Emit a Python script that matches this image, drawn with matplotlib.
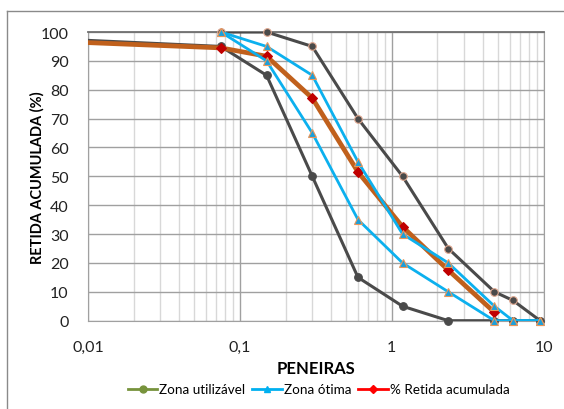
import numpy as np
import matplotlib
matplotlib.use("Agg")
from matplotlib import pyplot as plt
from matplotlib.lines import Line2D

plt.rcParams['font.family'] = ['Lato', 'DejaVu Sans']

# abertura das peneiras (mm)
peneiras = [0.075, 0.15, 0.3, 0.6, 1.18, 2.36, 4.75, 6.3, 9.5]
# 0.001 = fundo (fica fora do eixo, so aparece a reta ate a borda)
peneiras_fundo = [0.001, 0.075, 0.15, 0.3, 0.6, 1.18, 2.36, 4.75, 6.3, 9.5]

util_sup = [100, 100, 95, 70, 50, 25, 10, 7, 0]
util_inf = [99.5, 95, 85, 50, 15, 5, 0, 0, 0, 0]
otima_sup = [100, 95, 85, 55, 30, 20, 5, 0, 0]
otima_inf = [100, 90, 65, 35, 20, 10, 0, 0, 0]

peneiras_ensaio = [0.001, 0.075, 0.15, 0.3, 0.6, 1.18, 2.36, 4.75]
retida_acum = [98.4, 94.5, 91.6, 77.1, 51.5, 32.5, 17.5, 2.9]

xticks = [0.01, 0.1, 1, 10]
xtick_labels = ['0,01', '0,1', '1', '10']

fig = plt.figure(figsize=(5.64, 4.10), dpi=100)
ax = fig.add_axes([0.156, 0.2154, 0.8077, 0.7041])

def serie(x, y, cor, lw, mk, ms, mfc, mec, z):
    x = np.array(x)
    y = np.array(y)
    ax.plot(x, y, color=cor, lw=lw, zorder=z, solid_joinstyle='round')
    m = x >= 0.01
    ax.plot(x[m], y[m], ls='none', marker=mk, ms=ms, mfc=mfc, mec=mec,
            mew=0.8, zorder=z + 0.5, clip_on=False)

cinza = '#4a4a4a'
azul = '#0cb0ee'
marrom = '#c0601c'

serie(peneiras, util_sup, cinza, 2.2, 'o', 5.5, '#4a4a4a', '#e0a890', 3)
serie(peneiras_fundo, util_inf, cinza, 2.2, 'o', 5.5, '#4a4a4a', '#4a4a4a', 3)
serie(peneiras_ensaio, retida_acum, marrom, 3.4, 'D', 5.5, '#c00000', '#c00000', 4)
serie(peneiras, otima_sup, azul, 2.0, '^', 6, '#1aa0dc', '#e8965a', 5)
serie(peneiras, otima_inf, azul, 2.0, '^', 6, '#1aa0dc', '#e8965a', 5)

ax.set_xscale('log')
ax.set_xlim(0.01, 10)
ax.set_ylim(0, 100)
ax.set_yticks(np.arange(0, 101, 10))
ax.set_xticks(xticks)
ax.set_xticklabels(xtick_labels)
ax.xaxis.set_minor_formatter(matplotlib.ticker.NullFormatter())
ax.tick_params(axis='both', which='both', length=0, labelsize=11.5, colors='#222222')
ax.tick_params(axis='y', pad=14)
ax.tick_params(axis='x', pad=14)

ax.grid(True, which='major', axis='both', color='#a0a0a0', lw=1.0, zorder=0)
ax.grid(True, which='minor', axis='x', color='#d8d8d8', lw=1.0, zorder=0)
for s in ax.spines.values():
    s.set_color('#a0a0a0')
ax.spines['top'].set_color('#707070')
ax.spines['top'].set_linewidth(1.3)

ax.set_xlabel('PENEIRAS', fontsize=12, fontweight='bold', labelpad=4)
ax.set_ylabel('RETIDA ACUMULADA (%)', fontsize=10.5, fontweight='bold', labelpad=-3)

handles = [
    Line2D([], [], color='#77933c', lw=2, marker='o', ms=5),
    Line2D([], [], color='#00b0f0', lw=2, marker='^', ms=5),
    Line2D([], [], color='#ff0000', lw=2, marker='D', ms=4.5),
]
fig.legend(handles, ['Zona utilizável', 'Zona ótima', '% Retida acumulada'],
           loc='center', bbox_to_anchor=(0.565, 0.048), ncol=3, frameon=False,
           fontsize=9.7, handlelength=2.2, handletextpad=0.15, columnspacing=0.5)

# borda da área do gráfico
fig.add_artist(Line2D([6.5 / 564, 6.5 / 564], [0, 1 - 12 / 410], color='#8a8a8a', lw=1))
fig.add_artist(Line2D([6.5 / 564, 1], [1 - 12 / 410, 1 - 12 / 410], color='#8a8a8a', lw=1))

plt.savefig('out.png', dpi=100)
